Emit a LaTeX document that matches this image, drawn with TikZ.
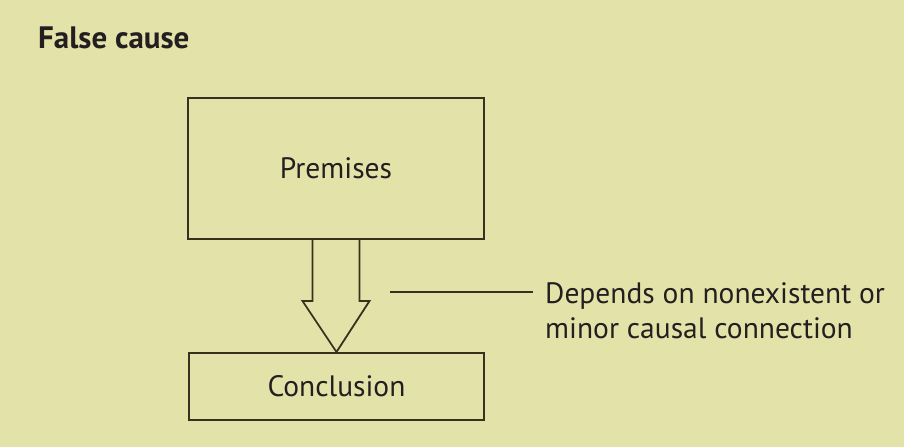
\documentclass[tikz,border=0pt]{standalone}
\usepackage{fontspec}
\setmainfont{PT Sans}
\usetikzlibrary{calc}
\definecolor{bg}{HTML}{E3E3A9}
\definecolor{ln}{HTML}{3A3020}
\definecolor{tx}{HTML}{231F20}
\begin{document}
\begin{tikzpicture}[x=1pt,y=-1pt,
  boxstyle/.style={draw=ln,line width=2pt,inner sep=0,text=tx,font=\fontsize{29.5}{33}\selectfont},
  leader/.style={draw=ln,line width=1.5pt}]
\useasboundingbox[fill=bg] (0,0) rectangle (904,447);
\node[anchor=base west,inner sep=0,text=tx,font=\fontsize{31}{36}\selectfont\bfseries] (title) at (38,48) {False cause};
\node[boxstyle,minimum width=296pt,minimum height=141pt] (pre) at (336,168.5) {Premises};
\node[boxstyle,minimum width=295pt,minimum height=67pt] (con) at (336.5,386.5) {Conclusion};
\draw[ln,line width=1.8pt,line join=miter]
  ($(pre.south)+(-23.5,0)$) -- ++(0,61) -- ++(-10,0) -- (con.north)
  -- ($(pre.south)+(33.5,61)$) -- ++(-10,0) -- ++(0,-61);
\coordinate (l1) at (390,292);
\coordinate (l2) at (533,292);
\draw[leader] (l1) -- (l2);
\node[anchor=north west,inner sep=0,align=left,text=tx,font=\fontsize{29.5}{35}\selectfont] (lab) at (545,282) {Depends on nonexistent or\\minor causal connection};
\end{tikzpicture}
\end{document}
